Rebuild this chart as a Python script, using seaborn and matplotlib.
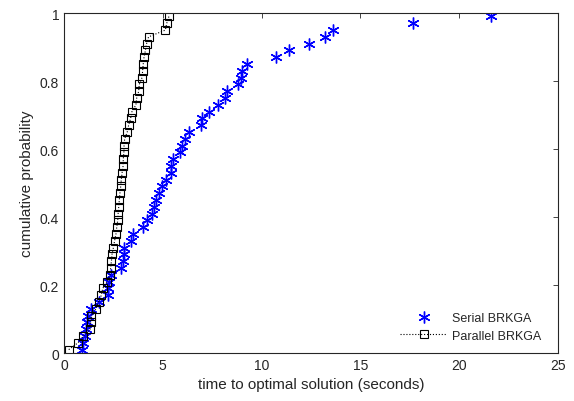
import numpy as np
import pandas as pd
import matplotlib
matplotlib.use('Agg')
import matplotlib.pyplot as plt
import seaborn as sns

# time to optimal solution (seconds), sorted, one per run
serial_times = [0.91, 0.98, 1.05, 1.11, 1.15, 1.21, 1.38, 1.75, 2.24, 2.25,
                2.27, 2.36, 2.87, 3.00, 3.03, 3.05, 3.37, 3.47, 4.01, 4.22,
                4.45, 4.55, 4.66, 4.79, 4.96, 5.16, 5.42, 5.44, 5.50, 5.87,
                5.97, 6.11, 6.34, 6.94, 6.96, 7.35, 7.79, 8.16, 8.27, 8.81,
                8.94, 9.00, 9.24, 10.73, 11.40, 12.38, 13.19, 13.60, 17.65, 21.59]
parallel_times = [0.24, 0.71, 0.98, 1.32, 1.35, 1.38, 1.62, 1.75, 1.89, 1.96,
                  2.19, 2.33, 2.36, 2.40, 2.43, 2.50, 2.56, 2.63, 2.67, 2.72,
                  2.74, 2.77, 2.80, 2.83, 2.87, 2.90, 2.94, 2.99, 3.00, 3.03,
                  3.04, 3.07, 3.20, 3.27, 3.37, 3.44, 3.64, 3.68, 3.78, 3.81,
                  3.95, 3.98, 4.01, 4.05, 4.12, 4.18, 4.28, 5.13, 5.20, 5.31]

n = len(serial_times)
prob = [(i + 0.5) / n for i in range(n)]

serial = pd.DataFrame({'time': serial_times, 'prob': prob})
parallel = pd.DataFrame({'time': parallel_times, 'prob': prob})

sns.set_style('white')
plt.rcParams['font.family'] = ['Liberation Sans', 'DejaVu Sans']
dark = '#262626'

fig = plt.figure(figsize=(5.74, 4.02), dpi=100)
ax = fig.add_axes([0.1115, 0.1194, 0.8605, 0.8456])

sns.lineplot(x='time', y='prob', data=serial, ax=ax, estimator=None, sort=False,
             linestyle='none', marker=(6, 2, 0), markersize=8.5,
             color='#0000ff', markeredgecolor='#0000ff', markeredgewidth=1.0,
             label='Serial BRKGA')
sns.lineplot(x='time', y='prob', data=parallel, ax=ax, estimator=None, sort=False,
             linestyle=':', linewidth=0.8, color='black', marker='s',
             markersize=6, markerfacecolor='none', markeredgecolor='black',
             markeredgewidth=0.8, label='Parallel BRKGA')

ax.set_xlim(0, 25)
ax.set_ylim(0, 1)
ax.set_xticks([0, 5, 10, 15, 20, 25])
ax.set_yticks([0, 0.2, 0.4, 0.6, 0.8, 1])
ax.set_yticklabels(['0', '0.2', '0.4', '0.6', '0.8', '1'])
ax.tick_params(direction='in', top=True, right=True, length=3.5, width=0.6,
               colors=dark, labelsize=10, labelcolor=dark)
for s in ax.spines.values():
    s.set_color(dark)
    s.set_linewidth(0.8)
    s.set_visible(True)

ax.set_xlabel('time to optimal solution (seconds)', fontsize=11, color=dark)
ax.set_ylabel('cumulative probability', fontsize=11, color=dark)

leg = ax.legend(loc='lower right', frameon=False, fontsize=9,
                bbox_to_anchor=(0.99, 0.0), handlelength=3.8,
                handletextpad=0.4, labelspacing=0.45)
for t in leg.get_texts():
    t.set_color(dark)

fig.savefig('out.png', dpi=100)
